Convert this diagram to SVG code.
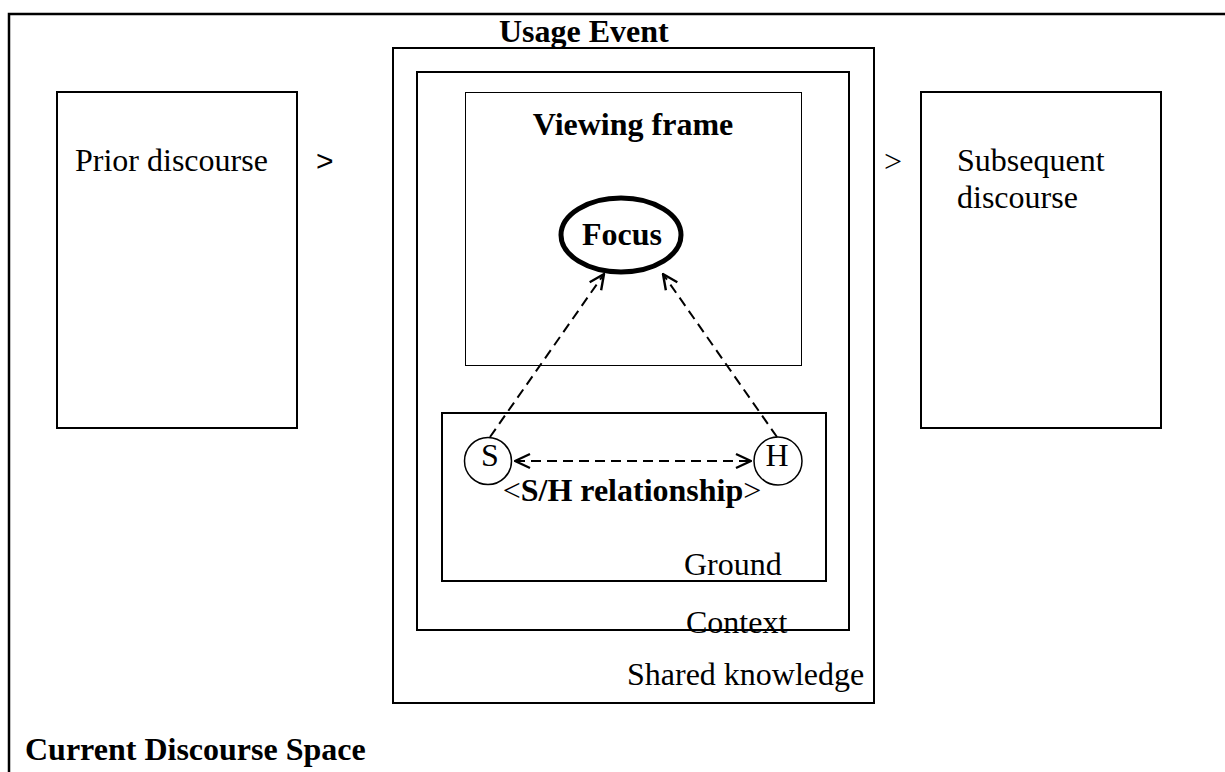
<svg xmlns="http://www.w3.org/2000/svg" width="1225" height="772" viewBox="0 0 1225 772">
  <style>
    .box { fill: none; stroke: #000; stroke-width: 2; }
    .thin { fill: none; stroke: #000; stroke-width: 1; }
    .t { font-family: "Liberation Serif", "Times New Roman", serif; font-size: 32px; fill: #000; }
    .b { font-weight: bold; }
    .conn { fill: none; stroke: #000; stroke-width: 2; stroke-dasharray: 10 6; }
  </style>
  <defs>
    <marker id="chev" viewBox="0 0 18 18" refX="17" refY="9" markerWidth="18" markerHeight="18" markerUnits="userSpaceOnUse" orient="auto-start-reverse">
      <path d="M2,2 L17,9 L2,16" fill="none" stroke="#000" stroke-width="2.4"/>
    </marker>
  </defs>
  <rect width="1225" height="772" fill="#fff"/>

  <!-- outer discourse space frame -->
  <g id="current-discourse-space">
    <path d="M9,772 V14 H1225" fill="none" stroke="#000" stroke-width="2.5"/>
    <text class="t b" x="25" y="760">Current Discourse Space</text>
  </g>

  <g id="prior-discourse">
    <rect class="box" x="57" y="92" width="240" height="336"/>
    <text class="t" x="75" y="171">Prior discourse</text>
  </g>
  <text id="gt-left" x="316" y="171" font-family="Liberation Sans, Arial, sans-serif" font-size="30">&gt;</text>

  <g id="usage-event">
    <rect class="box" x="393" y="48" width="481" height="655"/>
    <text class="t b" x="499" y="42">Usage Event</text>
    <text class="t" x="627" y="685">Shared knowledge</text>
  </g>

  <g id="context">
    <rect class="box" x="417" y="72" width="432" height="558"/>
    <text class="t" x="686" y="633">Context</text>
  </g>

  <g id="viewing-frame">
    <rect class="thin" x="465.5" y="92.5" width="336" height="273"/>
    <text class="t b" x="633" y="135" text-anchor="middle">Viewing frame</text>
  </g>

  <g id="focus">
    <ellipse cx="621" cy="235" rx="60" ry="37" fill="none" stroke="#000" stroke-width="5"/>
    <text class="t b" x="622" y="245" text-anchor="middle">Focus</text>
  </g>

  <g id="ground">
    <rect class="box" x="442" y="413" width="384" height="168"/>
    <text class="t" x="684" y="575">Ground</text>
    <text class="t" x="632" y="501" text-anchor="middle">&lt;<tspan class="b">S/H relationship</tspan>&gt;</text>
  </g>

  <g id="speaker">
    <circle cx="488" cy="461" r="23.5" fill="#fff" stroke="#000" stroke-width="1.5"/>
    <text class="t" x="490" y="466" text-anchor="middle" font-size="29">S</text>
  </g>

  <g id="hearer">
    <circle cx="778" cy="461" r="24" fill="#fff" stroke="#000" stroke-width="1.5"/>
    <text class="t" x="777" y="466" text-anchor="middle" font-size="29">H</text>
  </g>

  <g id="subsequent-discourse">
    <rect class="box" x="921" y="92" width="240" height="336"/>
    <text class="t" x="957" y="171">Subsequent</text>
    <text class="t" x="957" y="208">discourse</text>
  </g>
  <text id="gt-right" class="t" x="884" y="172">&gt;</text>

  <!-- connectors -->
  <g id="connectors">
    <line class="conn" x1="490" y1="437" x2="604" y2="274" marker-end="url(#chev)"/>
    <line class="conn" x1="777" y1="437" x2="663" y2="274" marker-end="url(#chev)"/>
    <line class="conn" x1="515" y1="461" x2="751" y2="461" marker-start="url(#chev)" marker-end="url(#chev)"/>
  </g>
</svg>
